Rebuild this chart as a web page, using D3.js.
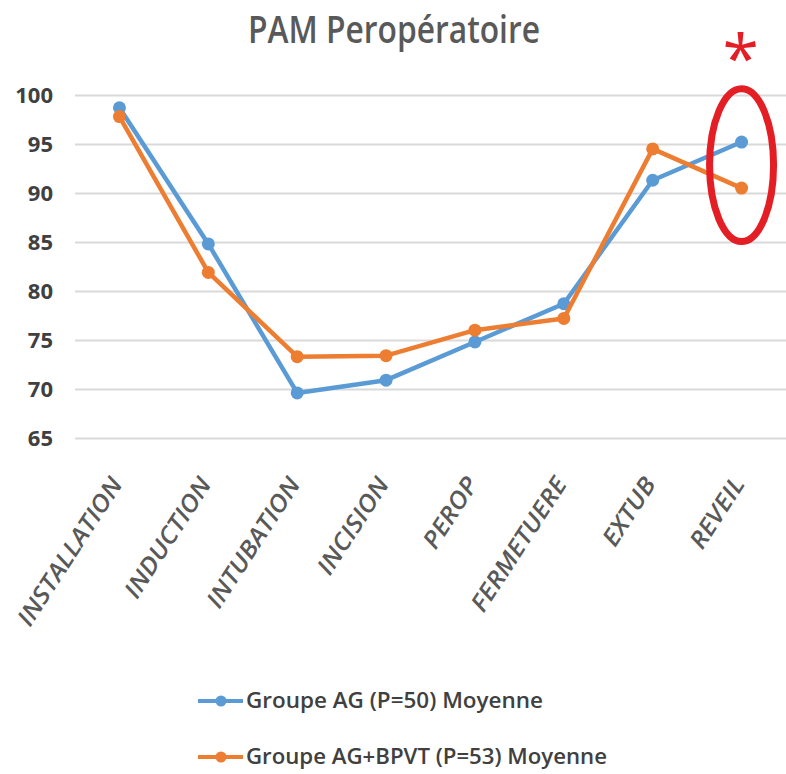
<!DOCTYPE html>
<html>
<head>
<meta charset="utf-8">
<script src="https://cdn.jsdelivr.net/npm/d3@7"></script>
<style>
  body { margin: 0; background: #fff; }
  svg { display: block; font-family: "Open Sans", sans-serif; }
</style>
</head>
<body>
<svg id="chart" width="786" height="774"></svg>
<script>
const categories = ['INSTALLATION', 'INDUCTION', 'INTUBATION', 'INCISION', 'PEROP', 'FERMETUERE', 'EXTUB', 'REVEIL'];
const groupAG = [98.7, 84.8, 69.6, 70.9, 74.8, 78.7, 91.3, 95.2];
const groupBPVT = [97.8, 81.9, 73.3, 73.4, 76.0, 77.2, 94.5, 90.5];
const yTicks = [65, 70, 75, 80, 85, 90, 95, 100];
const seriesNames = ['Groupe AG (P=50) Moyenne', 'Groupe AG+BPVT (P=53) Moyenne'];
const colors = ['#5b9bd5', '#ed7d31'];

const svg = d3.select('#chart');
const plotLeft = 75, plotRight = 786, plotTop = 95, plotBottom = 438;

const x = d3.scaleBand().domain(categories).range([plotLeft, plotRight]);
const y = d3.scaleLinear().domain([65, 100]).range([plotBottom, plotTop]);
const cx = d => x(d) + x.bandwidth() / 2;

// title
svg.append('text')
    .attr('x', 394).attr('y', 43)
    .attr('text-anchor', 'middle')
    .attr('font-size', 38)
    .attr('font-weight', 600)
    .attr('fill', '#595959')
    .attr('textLength', 292).attr('lengthAdjust', 'spacingAndGlyphs')
    .text('PAM Peropératoire');

// gridlines + y labels
const yAxis = d3.axisLeft(y).tickValues(yTicks).tickSize(-(plotRight - plotLeft)).tickPadding(22);
svg.append('g')
    .attr('transform', `translate(${plotLeft},0)`)
    .call(yAxis)
    .call(g => g.select('.domain').remove())
    .call(g => g.selectAll('line').attr('stroke', '#d9d9d9').attr('stroke-width', 2))
    .call(g => g.selectAll('text')
      .attr('font-size', 22).attr('font-weight', 700).attr('fill', '#404040')
      .attr('font-family', '"Open Sans", sans-serif'));

// x labels
svg.append('g').selectAll('text')
  .data(categories)
  .join('text')
    .attr('transform', d => `translate(${cx(d) + 4},484) rotate(-57) scale(1.1,1)`)
    .attr('text-anchor', 'end')
    .attr('font-size', 24)
    .attr('font-style', 'italic')
    .attr('font-weight', 600)
    .attr('fill', '#595959')
    .text(d => d);

// series
const line = d3.line().x((d, i) => cx(categories[i])).y(d => y(d));
[groupAG, groupBPVT].forEach((vals, k) => {
  svg.append('path')
      .attr('d', line(vals))
      .attr('fill', 'none')
      .attr('stroke', colors[k])
      .attr('stroke-width', 4.5)
      .attr('stroke-linejoin', 'round');
  svg.append('g').selectAll('circle')
    .data(vals)
    .join('circle')
      .attr('cx', (d, i) => cx(categories[i]))
      .attr('cy', d => y(d))
      .attr('r', 6.5)
      .attr('fill', colors[k]);
});

// significance mark on REVEIL
const last = categories.length - 1;
const midV = (groupAG[last] + groupBPVT[last]) / 2;
svg.append('ellipse')
    .attr('cx', cx(categories[last]))
    .attr('cy', y(midV))
    .attr('rx', 32)
    .attr('ry', y(midV - 7.8) - y(midV))
    .attr('fill', 'none')
    .attr('stroke', '#e31e24')
    .attr('stroke-width', 7);
svg.append('text')
    .attr('x', cx(categories[last]) - 1).attr('y', 82)
    .attr('text-anchor', 'middle')
    .attr('font-size', 66)
    .attr('fill', '#e31e24')
    .text('*');

// legend
const legend = svg.append('g').selectAll('g')
  .data(seriesNames)
  .join('g')
    .attr('transform', (d, i) => `translate(198,${701 + i * 56})`);
legend.append('line')
    .attr('x1', 0).attr('x2', 45)
    .attr('stroke', (d, i) => colors[i]).attr('stroke-width', 4);
legend.append('circle')
    .attr('cx', 23).attr('r', 5.5)
    .attr('fill', (d, i) => colors[i]);
legend.append('text')
    .attr('x', 48).attr('dy', '0.35em')
    .attr('font-size', 21)
    .attr('font-weight', 600)
    .attr('fill', '#404040')
    .attr('textLength', (d, i) => i === 0 ? 297 : 361)
    .attr('lengthAdjust', 'spacingAndGlyphs')
    .text(d => d);
</script>
</body>
</html>
